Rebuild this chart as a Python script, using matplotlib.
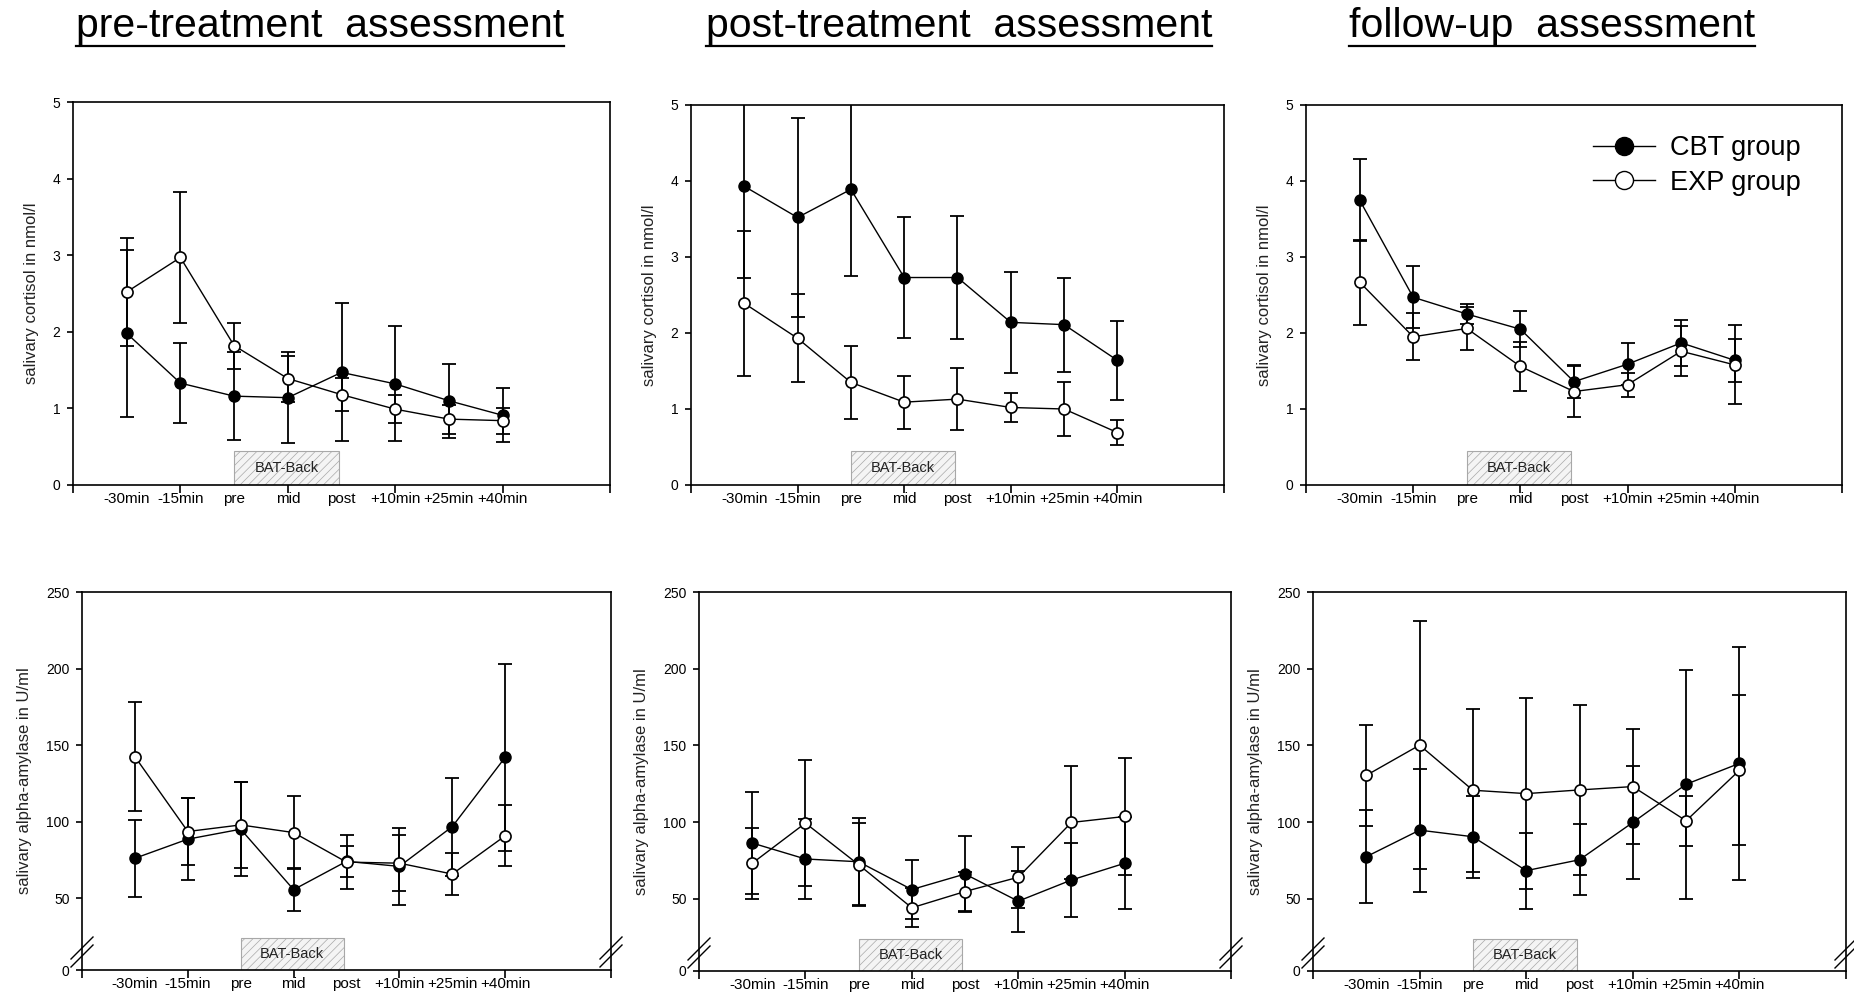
import matplotlib
matplotlib.use("Agg")
import matplotlib.pyplot as plt
from matplotlib.patches import Rectangle
from matplotlib.lines import Line2D

plt.rcParams['font.family'] = ['Liberation Sans', 'DejaVu Sans']
plt.rcParams['hatch.linewidth'] = 0.5

cats = ['-30min', '-15min', 'pre', 'mid', 'post', '+10min', '+25min', '+40min']
titles = ['pre-treatment  assessment', 'post-treatment  assessment', 'follow-up  assessment']

# salivary cortisol (nmol/l), mean and error
cort_pre_cbt = [1.98, 1.33, 1.16, 1.14, 1.47, 1.32, 1.10, 0.91]
cort_pre_cbt_err = [1.09, 0.52, 0.57, 0.59, 0.90, 0.75, 0.48, 0.35]
cort_pre_exp = [2.52, 2.97, 1.82, 1.39, 1.18, 0.99, 0.86, 0.84]
cort_pre_exp_err = [0.70, 0.85, 0.30, 0.30, 0.22, 0.18, 0.19, 0.17]

cort_post_cbt = [3.93, 3.52, 3.89, 2.73, 2.73, 2.14, 2.11, 1.64]
cort_post_cbt_err = [1.20, 1.31, 1.14, 0.80, 0.81, 0.66, 0.62, 0.52]
cort_post_exp = [2.39, 1.93, 1.35, 1.09, 1.13, 1.02, 1.00, 0.69]
cort_post_exp_err = [0.95, 0.58, 0.48, 0.35, 0.41, 0.19, 0.35, 0.16]

cort_fu_cbt = [3.75, 2.47, 2.25, 2.05, 1.36, 1.59, 1.87, 1.64]
cort_fu_cbt_err = [0.54, 0.41, 0.13, 0.24, 0.22, 0.28, 0.30, 0.28]
cort_fu_exp = [2.67, 1.95, 2.06, 1.56, 1.23, 1.32, 1.76, 1.58]
cort_fu_exp_err = [0.56, 0.31, 0.28, 0.32, 0.34, 0.16, 0.33, 0.52]

# salivary alpha-amylase (U/ml)
amy_pre_cbt = [76.0, 88.5, 95.0, 55.5, 74.0, 70.7, 96.7, 142.0]
amy_pre_cbt_err = [25.0, 26.6, 30.6, 14.2, 10.0, 25.0, 32.0, 61.0]
amy_pre_exp = [142.4, 93.5, 97.8, 92.8, 73.5, 72.8, 65.7, 90.7]
amy_pre_exp_err = [35.5, 22.0, 28.3, 24.1, 17.4, 18.5, 13.5, 20.0]

amy_post_cbt = [86.4, 76.0, 74.2, 56.1, 66.2, 48.5, 62.3, 73.2]
amy_post_cbt_err = [33.3, 26.3, 28.4, 19.2, 24.7, 19.9, 24.0, 30.1]
amy_post_exp = [73.2, 99.4, 72.3, 44.2, 54.8, 64.1, 99.8, 103.7]
amy_post_exp_err = [23.0, 41.0, 27.0, 12.6, 13.0, 19.9, 36.8, 38.3]

amy_fu_cbt = [77.5, 94.8, 90.5, 68.4, 75.5, 99.8, 124.7, 138.3]
amy_fu_cbt_err = [30.3, 40.0, 26.6, 24.7, 23.2, 37.0, 74.7, 76.0]
amy_fu_exp = [130.5, 150.2, 120.8, 118.6, 121.0, 123.2, 100.9, 133.8]
amy_fu_exp_err = [33.0, 81.0, 53.0, 62.4, 55.2, 37.6, 16.2, 49.0]

cortisol = [(cort_pre_cbt, cort_pre_cbt_err, cort_pre_exp, cort_pre_exp_err),
            (cort_post_cbt, cort_post_cbt_err, cort_post_exp, cort_post_exp_err),
            (cort_fu_cbt, cort_fu_cbt_err, cort_fu_exp, cort_fu_exp_err)]
amylase = [(amy_pre_cbt, amy_pre_cbt_err, amy_pre_exp, amy_pre_exp_err),
           (amy_post_cbt, amy_post_cbt_err, amy_post_exp, amy_post_exp_err),
           (amy_fu_cbt, amy_fu_cbt_err, amy_fu_exp, amy_fu_exp_err)]

W, H = 1854, 1000
fig = plt.figure(figsize=(W / 100, H / 100), dpi=100)

# axes boxes in pixels: left, right, top, bottom
top_boxes = [(73, 610, 102, 485), (691, 1224, 105, 485), (1306, 1842, 105, 485)]
bot_boxes = [(82, 611, 592, 970), (699, 1231, 592, 971), (1313, 1846, 592, 971)]


def make_ax(box):
    l, r, t, b = box
    return fig.add_axes([l / W, 1 - b / H, (r - l) / W, (b - t) / H])


def style(ax):
    for s in ax.spines.values():
        s.set_linewidth(1.2)
    ax.set_xlim(-1, 9)
    ax.xaxis.remove_overlapping_locs = False
    ax.set_xticks(range(-1, 10, 2))
    ax.set_xticklabels([])
    ax.set_xticks(range(len(cats)), labels=cats, minor=True)
    ax.tick_params(axis='x', which='major', direction='out', length=6, width=1.2)
    ax.tick_params(axis='x', which='minor', length=0, pad=5, labelsize=11)
    ax.tick_params(axis='y', direction='out', length=4, width=1.2, pad=5, labelsize=10)


def draw_series(ax, vals):
    cbt, cbt_err, exp, exp_err = vals
    x = list(range(len(cats)))
    ax.errorbar(x, cbt, yerr=cbt_err, fmt='none', ecolor='black', elinewidth=1.3,
                capsize=5, capthick=1.3, zorder=3)
    ax.errorbar(x, exp, yerr=exp_err, fmt='none', ecolor='black', elinewidth=1.3,
                capsize=5, capthick=1.3, zorder=3)
    ax.plot(x, cbt, '-o', color='black', lw=1, ms=8, mfc='black', mec='black', zorder=4)
    ax.plot(x, exp, '-o', color='black', lw=1, ms=8, mfc='white', mec='black', mew=1.2, zorder=5)


def bat_box(ax, y0, h):
    ax.add_patch(Rectangle((2, y0), 1.95, h, facecolor='#f4f4f4', edgecolor='#a8a8a8',
                           hatch='////', lw=0.8, zorder=1))
    ax.text(2.975, y0 + h / 2, 'BAT-Back', ha='center', va='center', fontsize=10.5,
            color='#222222', zorder=2)


def break_marks(ax, box):
    l, r, t, b = box
    wpx, hpx = r - l, b - t
    dx, dy = 11 / wpx, 11 / hpx
    yf = 18 / hpx
    for xf in (0, 1):
        for off in (-4 / hpx, 4 / hpx):
            ax.plot([xf - dx, xf + dx], [yf + off - dy, yf + off + dy], color='black',
                    lw=1, transform=ax.transAxes, clip_on=False, zorder=6)


for i in range(3):
    ax = make_ax(top_boxes[i])
    style(ax)
    ax.set_ylim(0, 5)
    ax.set_yticks([0, 1, 2, 3, 4, 5])
    draw_series(ax, cortisol[i])
    bat_box(ax, 0, 0.45)
    ax.set_ylabel('salivary cortisol in nmol/l', fontsize=12, color='#222222')
    ax.yaxis.set_label_coords(-0.063, 0.5)
    if i == 2:
        handles = [Line2D([], [], color='black', lw=1, marker='o', ms=13, mfc='black', mec='black'),
                   Line2D([], [], color='black', lw=1, marker='o', ms=13, mfc='white', mec='black')]
        ax.legend(handles, ['CBT group', 'EXP group'], loc='upper left',
                  bbox_to_anchor=(1593 / W, 1 - 135 / H), bbox_transform=fig.transFigure,
                  frameon=False, borderpad=0, borderaxespad=0, fontsize=19.5,
                  handlelength=2.3, handletextpad=0.55, labelspacing=0.32, numpoints=1)

for i in range(3):
    ax = make_ax(bot_boxes[i])
    style(ax)
    ax.set_ylim(3, 250)
    ax.set_yticks([3, 50, 100, 150, 200, 250], labels=['0', '50', '100', '150', '200', '250'])
    draw_series(ax, amylase[i])
    bat_box(ax, 3, 21)
    ax.set_ylabel('salivary alpha-amylase in U/ml', fontsize=12, color='#222222')
    ax.yaxis.set_label_coords(-0.094, 0.5)
    break_marks(ax, bot_boxes[i])

# titles with underline
title_x = [320, 959, 1552]
renderer = fig.canvas.get_renderer()
for tx, tt in zip(title_x, titles):
    t = fig.text(tx / W, 1 - 37 / H, tt, ha='center', va='baseline', fontsize=29.5, color='black')
    bb = t.get_window_extent(renderer).transformed(fig.transFigure.inverted())
    fig.add_artist(Line2D([bb.x0, bb.x1], [1 - 46 / H, 1 - 46 / H], color='black', lw=1.6,
                          transform=fig.transFigure))

fig.savefig('out.png', dpi=100)
